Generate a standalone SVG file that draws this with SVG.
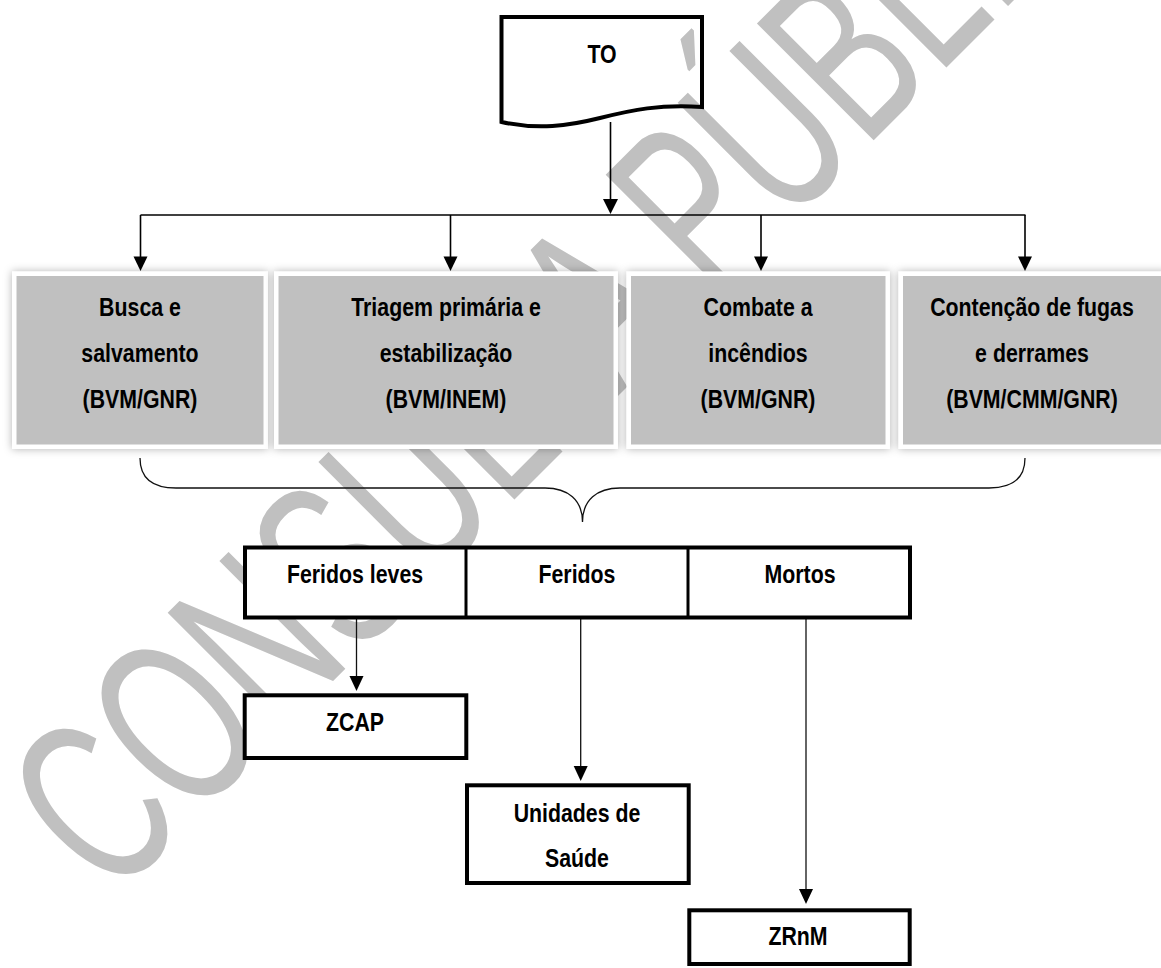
<svg xmlns="http://www.w3.org/2000/svg" width="1161" height="968" viewBox="0 0 1161 968">
  <defs>
    <style>
      .lbl { font-family: 'Liberation Sans Narrow', 'Arial Narrow', 'Liberation Sans', Arial, sans-serif; font-weight: bold; font-size: 26px; fill: #000; text-anchor: middle; transform-box: fill-box; transform-origin: center; transform: scaleX(0.82); }
      .task { fill: #c0c0c0; stroke: #ffffff; stroke-width: 4.5; filter: url(#glow); }
      .box { fill: #ffffff; stroke: #000; stroke-width: 4; }
      .wire { fill: none; stroke: #000; stroke-width: 1.6; }
      .wire-thin { fill: none; stroke: #111; stroke-width: 1.3; }
      .head { fill: #000; }
      .wm { font-family: 'Liberation Sans', Arial, sans-serif; font-size: 240px; fill: #c0c0c0; }
    </style>
    <filter id="glow" x="-10%" y="-10%" width="120%" height="120%">
      <feDropShadow dx="0" dy="0" stdDeviation="4" flood-color="#000" flood-opacity="0.3"/>
    </filter>
  </defs>

  <rect width="1161" height="968" fill="#ffffff"/>

  <!-- watermark -->
  <text class="wm" transform="translate(112,902) rotate(-45)" textLength="1510" lengthAdjust="spacingAndGlyphs">CONSULTA PÚBLICA</text>

  <!-- connectors -->
  <g id="connectors">
    <path class="wire" d="M610.5,122 V199"/>
    <path class="head" d="M603,199 L618,199 L610.5,214 Z"/>
    <path class="wire" d="M140.5,215 H1025.5"/>
    <path class="wire" d="M140.5,215 V257"/>
    <path class="head" d="M133.5,256.5 L147.5,256.5 L140.5,271 Z"/>
    <path class="wire" d="M450.5,215 V257"/>
    <path class="head" d="M443.5,256.5 L457.5,256.5 L450.5,271 Z"/>
    <path class="wire" d="M761,215 V257"/>
    <path class="head" d="M754,256.5 L768,256.5 L761,271 Z"/>
    <path class="wire" d="M1025,215 V257"/>
    <path class="head" d="M1018,256.5 L1032,256.5 L1025,271 Z"/>

    <!-- brace gathering the four tasks -->
    <path class="wire-thin" d="M140,458 C140,478 152,488 176,488 L545,488 C568,488 582.5,500 582.5,522 C582.5,500 597,488 620,488 L989,488 C1013,488 1025,478 1025,458"/>

    <path class="wire-thin" d="M356.5,619 V677"/>
    <path class="head" d="M349.5,676 L363.5,676 L356.5,691 Z"/>
    <path class="wire-thin" d="M580.7,619 V767"/>
    <path class="head" d="M573.7,766 L587.7,766 L580.7,781 Z"/>
    <path class="wire-thin" d="M806,619 V890"/>
    <path class="head" d="M799,889 L813,889 L806,904 Z"/>
  </g>

  <!-- TO document -->
  <g id="node-to">
    <path d="M501.5,17 H702 V107 C660,104 632,110 600,118 C568,126 538,130 501.5,122 Z" fill="none" stroke="#000" stroke-width="4"/>
    <text class="lbl" x="602" y="63">TO</text>
  </g>

  <g id="node-busca">
    <rect class="task" x="14.25" y="273.75" width="251.5" height="173"/>
    <text class="lbl" x="140" y="316">Busca e</text>
    <text class="lbl" x="140" y="362">salvamento</text>
    <text class="lbl" x="140" y="408">(BVM/GNR)</text>
  </g>

  <g id="node-triagem">
    <rect class="task" x="276.25" y="273.75" width="339.5" height="173"/>
    <text class="lbl" x="446" y="316">Triagem primária e</text>
    <text class="lbl" x="446" y="362">estabilização</text>
    <text class="lbl" x="446" y="408">(BVM/INEM)</text>
  </g>

  <g id="node-combate">
    <rect class="task" x="628.75" y="273.75" width="259" height="173"/>
    <text class="lbl" x="758" y="316">Combate a</text>
    <text class="lbl" x="758" y="362">incêndios</text>
    <text class="lbl" x="758" y="408">(BVM/GNR)</text>
  </g>

  <g id="node-contencao">
    <rect class="task" x="900.75" y="273.75" width="265" height="173"/>
    <text class="lbl" x="1032" y="316">Contenção de fugas</text>
    <text class="lbl" x="1032" y="362">e derrames</text>
    <text class="lbl" x="1032" y="408">(BVM/CMM/GNR)</text>
  </g>

  <g id="node-vitimas">
    <rect class="box" x="245" y="547.5" width="665" height="70"/>
    <line x1="466" y1="547.5" x2="466" y2="617.5" stroke="#000" stroke-width="3"/>
    <line x1="688" y1="547.5" x2="688" y2="617.5" stroke="#000" stroke-width="3"/>
    <text class="lbl" x="355" y="583.5">Feridos leves</text>
    <text class="lbl" x="577" y="583.5">Feridos</text>
    <text class="lbl" x="800" y="583.5">Mortos</text>
  </g>

  <g id="node-zcap">
    <rect class="box" x="244.7" y="695.3" width="221.6" height="62.7"/>
    <text class="lbl" x="355" y="730.7">ZCAP</text>
  </g>

  <g id="node-saude">
    <rect class="box" x="467" y="785.3" width="221.7" height="97.7"/>
    <text class="lbl" x="577" y="821.7">Unidades de</text>
    <text class="lbl" x="577" y="867.3">Saúde</text>
  </g>

  <g id="node-zrnm">
    <rect class="box" x="689.3" y="910.3" width="220.4" height="53.7"/>
    <text class="lbl" x="798" y="945">ZRnM</text>
  </g>
</svg>
